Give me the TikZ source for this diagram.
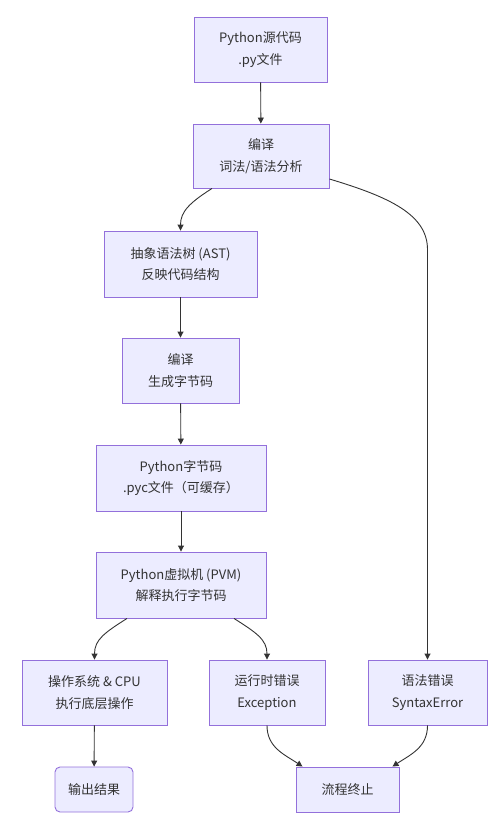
\documentclass[tikz,border=0pt]{standalone}
\usepackage{fontspec}
\newfontfamily\cjk{Noto Sans CJK SC}
\usetikzlibrary{arrows.meta,calc}
\definecolor{boxfill}{HTML}{ECECFF}
\definecolor{boxline}{HTML}{9370DB}
\definecolor{txt}{HTML}{333333}
\definecolor{edge}{HTML}{333333}
\tikzset{
  box/.style={draw=boxline,fill=boxfill,line width=0.9pt,inner sep=0pt,align=center,
    text=txt,font=\cjk\fontsize{13}{21.5}\selectfont},
  rbox/.style={box,rounded corners=5pt},
  link/.style={draw=edge,line width=0.9pt,-{Triangle[length=6pt,width=6pt]}},
}
\begin{document}
\begin{tikzpicture}[x=1pt,y=-1pt]
\useasboundingbox (0,0) rectangle (502,827);
\node[box,minimum width=133pt,minimum height=65pt] (n1) at (260.5,49.5) {Python源代码\\.py文件};
\node[box,minimum width=136pt,minimum height=64pt] (n2) at (261,156) {编译\\词法/语法分析};
\node[box,minimum width=153pt,minimum height=66pt] (n3) at (180.5,264) {抽象语法树 (AST)\\反映代码结构};
\node[box,minimum width=117pt,minimum height=65pt] (n4) at (180.5,370.5) {编译\\生成字节码};
\node[box,minimum width=170pt,minimum height=66pt] (n5) at (181,478) {Python字节码\\.pyc文件（可缓存）};
\node[box,minimum width=170pt,minimum height=66pt] (n6) at (181,585) {Python虚拟机 (PVM)\\解释执行字节码};
\node[box,minimum width=145pt,minimum height=65pt] (n7) at (94.5,692.5) {操作系统 \& CPU\\执行底层操作};
\node[box,minimum width=116pt,minimum height=65pt] (n8) at (267,692.5) {运行时错误\\Exception};
\node[box,minimum width=119pt,minimum height=65pt] (n9) at (427.5,692.5) {语法错误\\SyntaxError};
\node[rbox,minimum width=78pt,minimum height=45pt] (n10) at (94,789.5) {输出结果};
\node[box,minimum width=103pt,minimum height=45pt] (n11) at (347.5,789.5) {流程终止};

\draw[link] (n1) -- (n2);
\draw[link] ($(n2.south)+(-49,0)$) .. controls +(-22,14) and +(0,-19) .. (n3.north);
\draw[link] ($(n2.east)+(0,23)$) .. controls +(60,18) and +(0,-35) .. ($(n9.north)+(0,-410)$) -- (n9.north);
\draw[link] (n3) -- (n4);
\draw[link] (n4) -- (n5);
\draw[link] (n5) -- (n6);
\draw[link] ($(n6.south)+(-54,0)$) .. controls +(-22,14) and +(0,-20) .. (n7.north);
\draw[link] ($(n6.south)+(53,0)$) .. controls +(22,14) and +(0,-20) .. (n8.north);
\draw[link] (n7) -- (n10);
\draw[link] (n8.south) .. controls +(0,22) and +(-18,-12) .. ($(n11.north)+(-45,0)$);
\draw[link] (n9.south) .. controls +(0,22) and +(18,-12) .. ($(n11.north)+(45,0)$);
\end{tikzpicture}
\end{document}
